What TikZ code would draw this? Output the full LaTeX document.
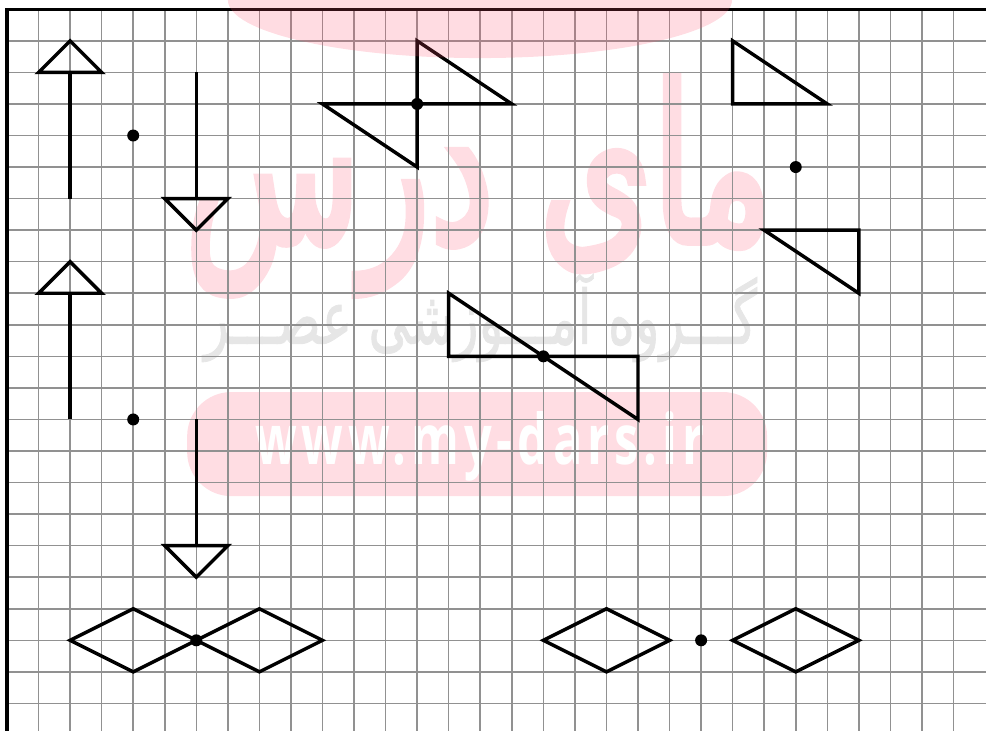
\documentclass[tikz,border=0pt]{standalone}
\usepackage{fontspec}
\usepackage{graphicx}
\TeXXeTstate=1
\newfontfamily\arboldfont[Script=Arabic, FakeBold=4]{DejaVu Sans}
\newfontfamily\argrayfont[Script=Arabic, FakeBold=1.2]{DejaVu Sans}
\newfontfamily\wwwfont[LetterSpace=10]{Open Sans}
\definecolor{wmpink}{RGB}{255,80,110}
\definecolor{rectpink}{RGB}{255,221,227}
\definecolor{wmgray}{RGB}{230,230,230}
\definecolor{gridgray}{RGB}{145,145,145}
\begin{document}
\begin{tikzpicture}[x=1cm,y=-1cm,
  figline/.style={line width=3.1pt},
  gridline/.style={gridgray, line width=1.4pt},
  wmtext/.style={inner sep=0pt, outer sep=0pt}]
\useasboundingbox (-0.222,-0.295) rectangle (31.03,22.875);
% watermark (background part)
\node[fill=rectpink, rounded corners=1.4cm, minimum width=18.38cm, minimum height=3.30cm, inner sep=0pt] (wmrect) at (14.90,13.78) {};
\node[wmtext, text=white] (wmurl) at (14.98,13.86) {\resizebox{405pt}{47.8pt}{\wwwfont\bfseries www.my-dars.ir}};
\node[wmtext, text=wmgray] (wmgroup) at (15.01,9.78) {\resizebox{498.7pt}{63.1pt}{\argrayfont\beginR گـــروه آمـــوزشی عصـــر\endR}};
\node[wmtext, text=rectpink] (wmlogo) at (14.96,5.585) {\resizebox{530pt}{148.8pt}{\arboldfont\beginR مای درس\endR}};
% grid
\foreach \i in {1,...,30} \draw[gridline] (\i,0) -- (\i,22.875);
\foreach \j in {1,...,22} \draw[gridline] (0,\j) -- (31.03,\j);
\coordinate (tr) at (31.03,0);
\coordinate (tl) at (0,0);
\coordinate (bl) at (0,22.875);
\draw[line width=3pt] (tr) -- (tl) -- (bl);
% first arrow pair
\draw[figline] (2,1) -- (3,2) -- (1,2) -- cycle;
\draw[figline] (2,2) -- (2,6);
\fill (4,4) circle (0.19);
\draw[figline] (6,2) -- (6,6);
\draw[figline] (5,6) -- (7,6) -- (6,7) -- cycle;
% bow tie top
\draw[figline] (13,3) -- (13,1) -- (16,3) -- cycle;
\draw[figline] (13,3) -- (13,5) -- (10,3) -- cycle;
\fill (13,3) circle (0.19);
% top right triangles
\draw[figline] (23,1) -- (23,3) -- (26,3) -- cycle;
\fill (25,5) circle (0.19);
\draw[figline] (24,7) -- (27,7) -- (27,9) -- cycle;
% second arrow pair
\draw[figline] (2,8) -- (3,9) -- (1,9) -- cycle;
\draw[figline] (2,9) -- (2,13);
\fill (4,13) circle (0.19);
\draw[figline] (6,13) -- (6,17);
\draw[figline] (5,17) -- (7,17) -- (6,18) -- cycle;
% middle shape
\draw[figline] (14,9) -- (14,11) -- (20,11) -- (20,13) -- cycle;
\fill (17,11) circle (0.19);
% rhombi
\draw[figline] (2,20) -- (4,19) -- (6,20) -- (4,21) -- cycle;
\draw[figline] (6,20) -- (8,19) -- (10,20) -- (8,21) -- cycle;
\fill (6,20) circle (0.19);
\draw[figline] (17,20) -- (19,19) -- (21,20) -- (19,21) -- cycle;
\fill (22,20) circle (0.19);
\draw[figline] (23,20) -- (25,19) -- (27,20) -- (25,21) -- cycle;
% watermark (overlay part)
\fill[wmpink, opacity=0.2] (14.99,-0.295) ellipse (7.99 and 1.84);
\end{tikzpicture}
\end{document}
